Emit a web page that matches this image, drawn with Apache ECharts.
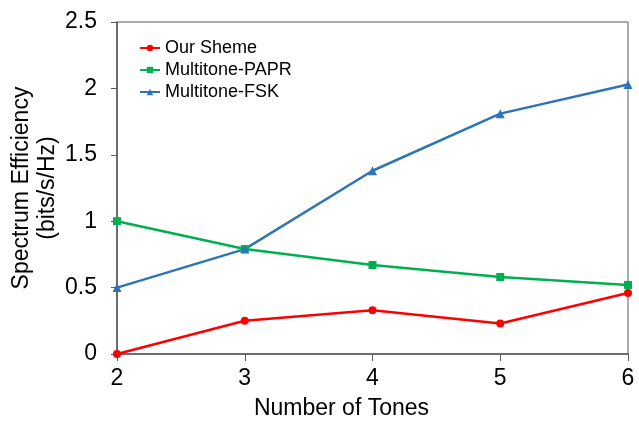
<!DOCTYPE html>
<html>
<head>
<meta charset="utf-8">
<script src="https://cdn.jsdelivr.net/npm/echarts@6/dist/echarts.min.js"></script>
<style>
  html, body { margin: 0; padding: 0; background: #fff; }
  #chart { width: 639px; height: 425px; }
</style>
</head>
<body>
<div id="chart"></div>
<script>
  const tones = [2, 3, 4, 5, 6]
  const ourScheme = [0, 0.25, 0.33, 0.23, 0.46]
  const papr = [1.0, 0.79, 0.67, 0.58, 0.52]
  const fsk = [0.5, 0.79, 1.38, 1.81, 2.03]

  const font = 'Liberation Sans, Arial, sans-serif'
  const axisColor = '#595959'

  function pairs(vals) {
    return tones.map(function (t, i) { return [t, vals[i]] })
  }

  const myChart = echarts.init(document.getElementById('chart'))
  myChart.setOption({
    animation: false,
    grid: {
      left: 117, right: 11, top: 22, bottom: 71,
      outerBoundsMode: 'none',
      show: true, borderColor: axisColor, borderWidth: 1
    },
    legend: {
      orient: 'vertical',
      left: 134, top: 34,
      itemGap: 4,
      itemWidth: 20, itemHeight: 8,
      textStyle: { fontFamily: font, fontSize: 18, color: '#000' },
      data: ['Our Sheme', 'Multitone-PAPR', 'Multitone-FSK']
    },
    xAxis: {
      type: 'value',
      min: 2, max: 6, interval: 1,
      name: 'Number of Tones',
      nameLocation: 'middle',
      nameGap: 43,
      nameMoveOverlap: false,
      // the title sits left of the plot's centre in the original
      nameTextStyle: { fontFamily: font, fontSize: 23, color: '#000', padding: [0, 62, 0, 0] },
      axisLine: { lineStyle: { color: axisColor, width: 1.5 } },
      axisTick: { inside: false, length: 7, lineStyle: { color: axisColor } },
      axisLabel: { fontFamily: font, fontSize: 23, color: '#000', margin: 13 },
      splitLine: { show: false }
    },
    yAxis: {
      type: 'value',
      min: 0, max: 2.5, interval: 0.5,
      name: 'Spectrum Efficiency\n(bits/s/Hz)',
      nameLocation: 'middle',
      nameGap: 56,
      nameMoveOverlap: false,
      nameTextStyle: { fontFamily: font, fontSize: 23, color: '#000', lineHeight: 26 },
      axisLine: { lineStyle: { color: axisColor, width: 1.5 } },
      axisTick: { inside: false, length: 6, lineStyle: { color: axisColor } },
      axisLabel: { fontFamily: font, fontSize: 23, color: '#000', margin: 20 },
      splitLine: { show: false }
    },
    series: [
      {
        name: 'Our Sheme', type: 'line', data: pairs(ourScheme),
        symbol: 'circle', symbolSize: 8,
        lineStyle: { color: '#FF0000', width: 2.5 },
        itemStyle: { color: '#FF0000' }
      },
      {
        name: 'Multitone-PAPR', type: 'line', data: pairs(papr),
        symbol: 'rect', symbolSize: 8,
        lineStyle: { color: '#00B050', width: 2.5 },
        itemStyle: { color: '#00B050' }
      },
      {
        name: 'Multitone-FSK', type: 'line', data: pairs(fsk),
        symbol: 'triangle', symbolSize: 9,
        lineStyle: { color: '#2E75B6', width: 2.5 },
        itemStyle: { color: '#2E75B6' }
      }
    ]
  })
</script>
</body>
</html>
